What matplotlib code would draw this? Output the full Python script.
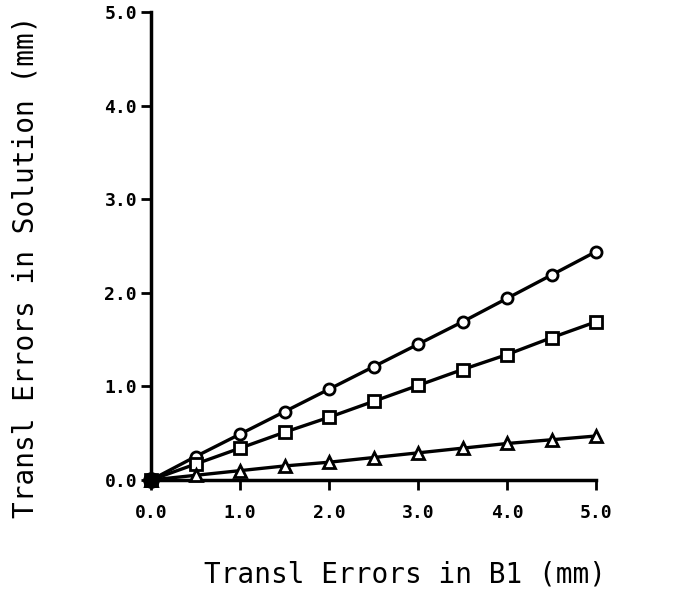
import matplotlib
matplotlib.use('Agg')
import matplotlib.pyplot as plt

# data
x_vals = [0.0, 0.5, 1.0, 1.5, 2.0, 2.5, 3.0, 3.5, 4.0, 4.5, 5.0]
circle_vals = [0.0, 0.25, 0.49, 0.73, 0.97, 1.21, 1.45, 1.69, 1.94, 2.19, 2.44]
square_vals = [0.0, 0.17, 0.34, 0.51, 0.67, 0.84, 1.01, 1.18, 1.34, 1.52, 1.69]
triangle_vals = [0.0, 0.05, 0.10, 0.15, 0.19, 0.24, 0.29, 0.34, 0.39, 0.43, 0.47]
tick_vals = [0.0, 1.0, 2.0, 3.0, 4.0, 5.0]
tick_labels = ['0.0', '1.0', '2.0', '3.0', '4.0', '5.0']

plt.rcParams['font.family'] = ['DejaVu Sans Mono']

fig = plt.figure(figsize=(6.88, 6.02), dpi=100)
ax = fig.add_axes([151 / 688, 1 - 480 / 602, (596 - 151) / 688, (480 - 12) / 602])

series = [
    (circle_vals, 'o'),
    (square_vals, 's'),
    (triangle_vals, '^'),
]
for vals, mk in series:
    ax.plot(x_vals, vals, color='black', lw=2.4, marker=mk, markersize=8,
            markerfacecolor='white', markeredgecolor='black', markeredgewidth=2,
            clip_on=False, zorder=3)
# filled blob at the origin
ax.plot([x_vals[0]], [circle_vals[0]], marker='o', markersize=11, color='black',
        clip_on=False, zorder=4)

ax.set_xlim(0, 5)
ax.set_ylim(0, 5)
ax.set_xticks(tick_vals)
ax.set_xticklabels(tick_labels)
ax.set_yticks(tick_vals)
ax.set_yticklabels(tick_labels)

for side in ['top', 'right']:
    ax.spines[side].set_visible(False)
for side in ['left', 'bottom']:
    ax.spines[side].set_linewidth(2.5)

ax.tick_params(direction='out', length=7, width=2, labelsize=13)
ax.tick_params(axis='x', pad=10)
ax.tick_params(axis='y', pad=3)
for lab in ax.get_xticklabels() + ax.get_yticklabels():
    lab.set_fontweight('bold')

ax.set_xlabel('Transl Errors in B1 (mm)', fontsize=20)
ax.set_ylabel('Transl Errors in Solution (mm)', fontsize=20)
ax.yaxis.set_label_coords(-(151 - 40) / 445, (480 - 267) / 468)
ax.xaxis.set_label_coords((405 - 151) / 445, -(561 - 480) / 468)

plt.savefig('out.png', dpi=100)
plt.close()
